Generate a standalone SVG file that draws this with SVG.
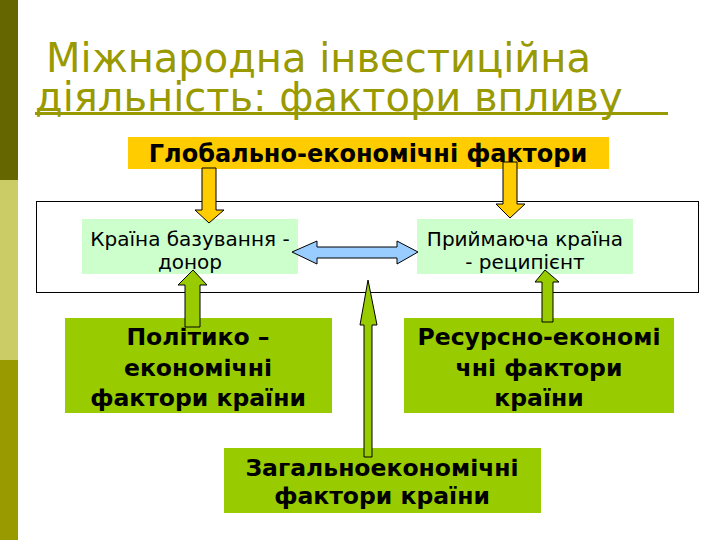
<svg xmlns="http://www.w3.org/2000/svg" width="720" height="540" viewBox="0 0 720 540">
<defs>
<style>
.title{font-family:"DejaVu Sans","Noto Sans",sans-serif;font-size:40px;fill:#999900}
.bold{font-family:"DejaVu Sans","Noto Sans",sans-serif;font-weight:bold;fill:#000;text-anchor:middle}
.reg{font-family:"DejaVu Sans","Noto Sans",sans-serif;font-size:20px;fill:#000;text-anchor:middle}
.yarrow{fill:#FFCC00;stroke:#000;stroke-width:1}
.garrow{fill:#99CC00;stroke:#000;stroke-width:1}
.barrow{fill:#99CCFF;stroke:#000;stroke-width:1}
</style>
</defs>
<rect x="0" y="0" width="720" height="540" fill="#fff"/>
<g id="sidebar">
<rect x="0" y="0" width="18" height="180" fill="#666600"/>
<rect x="0" y="180" width="18" height="180" fill="#CCCC66"/>
<rect x="0" y="360" width="18" height="180" fill="#999900"/>
</g>
<g id="title">
<text class="title" x="46" y="72">Міжнародна інвестиційна</text>
<text class="title" x="35" y="111">діяльність: фактори впливу</text>
<rect x="35" y="112" width="633" height="3" fill="#999900"/>
</g>
<g id="frame">
<rect x="36.5" y="201.5" width="662" height="91" fill="#fff" stroke="#000" stroke-width="1"/>
</g>
<g id="global">
<rect x="128" y="137" width="481" height="32" fill="#FFCC00"/>
<text class="bold" x="368" y="162" font-size="24">Глобально-економічні фактори</text>
</g>
<g id="donor">
<rect x="82" y="219" width="216" height="55" fill="#CCFFCC"/>
<text class="reg" x="190" y="246">Країна базування -</text>
<text class="reg" x="190" y="269">донор</text>
</g>
<g id="recipient">
<rect x="417" y="219" width="216" height="55" fill="#CCFFCC"/>
<text class="reg" x="525" y="246">Приймаюча країна</text>
<text class="reg" x="525" y="269">- реципієнт</text>
</g>
<g id="political">
<rect x="65" y="318" width="267" height="95" fill="#99CC00"/>
<text class="bold" x="198" y="345" font-size="23.5">Політико –</text>
<text class="bold" x="198" y="376" font-size="23.5">економічні</text>
<text class="bold" x="198" y="406" font-size="23.5">фактори країни</text>
</g>
<g id="resource">
<rect x="404" y="318" width="270" height="95" fill="#99CC00"/>
<text class="bold" x="539" y="345" font-size="23.5">Ресурсно-економі</text>
<text class="bold" x="539" y="376" font-size="23.5">чні фактори</text>
<text class="bold" x="539" y="406" font-size="23.5">країни</text>
</g>
<g id="general">
<rect x="224" y="448" width="317" height="65" fill="#99CC00"/>
<text class="bold" x="382" y="476" font-size="23.5">Загальноекономічні</text>
<text class="bold" x="382" y="504" font-size="23.5">фактори країни</text>
</g>
<g id="connectors">
<polygon class="yarrow" points="202,168 216,168 216,210 224,210 209,223 195,210 202,210"/>
<polygon class="yarrow" points="503,162 517,162 517,204 525,204 510,218 496,204 503,204"/>
<polygon class="barrow" points="292,252 317,241 317,247 397,247 397,241 418,252 397,264 397,258 317,258 317,264"/>
<polygon class="garrow" points="193,270 207,285 200,285 200,327 185,327 185,285 178,285"/>
<polygon class="garrow" points="545,270 559,282 553,282 553,322 542,322 542,282 535,282"/>
<polygon class="garrow" points="368,280 377,325 372,325 372,457 364,457 364,325 360,325"/>
</g>
</svg>
